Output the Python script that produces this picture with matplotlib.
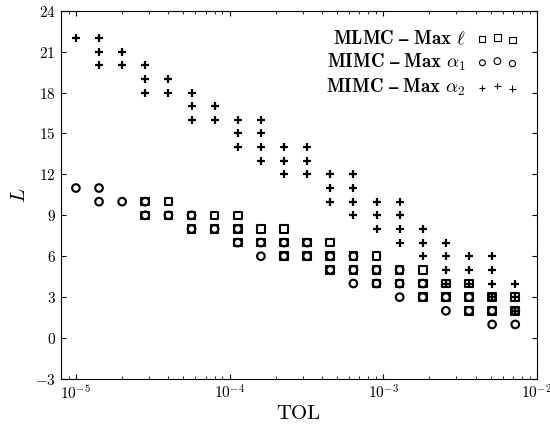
import numpy as np
import matplotlib
matplotlib.use("Agg")
import matplotlib.pyplot as plt

plt.rcParams['font.family'] = ['cmr10', 'DejaVu Serif']
plt.rcParams['mathtext.fontset'] = 'cm'
plt.rcParams['axes.formatter.use_mathtext'] = True
plt.rcParams['axes.unicode_minus'] = True

# TOL = 1e-5 * sqrt(2)^k, k = 0..19
tol = 1e-5 * np.sqrt(2.0) ** np.arange(20)

# valores de L observados para cada TOL
mlmc_max_l = [[], [], [], [10, 9], [10, 9], [9, 8], [9, 8], [9, 8, 7],
              [8, 7], [8, 7, 6], [7, 6], [7, 6, 5], [6, 5], [6, 5, 4],
              [5, 4], [5, 4, 3], [4, 3], [4, 3, 2], [3, 2], [3, 2]]
mimc_max_a1 = [[11], [11, 10], [10], [10, 9], [9], [9, 8], [8], [8, 7],
               [7, 6], [7, 6], [7, 6], [6, 5], [6, 5, 4], [5, 4],
               [5, 4, 3], [4, 3], [3, 2], [3, 2], [3, 2, 1], [2, 1]]
mimc_max_a2 = [[22], [22, 21, 20], [21, 20], [20, 19, 18], [19, 18],
               [18, 17, 16], [17, 16], [16, 15, 14], [16, 15, 14, 13],
               [14, 13, 12], [14, 13, 12], [12, 11, 10], [12, 11, 10, 9],
               [10, 9, 8], [10, 9, 8, 7], [8, 7, 6], [7, 6, 5, 4],
               [6, 5, 4], [6, 5, 4, 3], [4, 3, 2]]

etiquetas = [r'$\mathbf{MLMC}\ \mathbf{–}\ \mathbf{Max}\ \ell$',
             r'$\mathbf{MIMC}\ \mathbf{–}\ \mathbf{Max}\ \alpha_1$',
             r'$\mathbf{MIMC}\ \mathbf{–}\ \mathbf{Max}\ \alpha_2$']


def aplanar(valores):
    xs, ys = [], []
    for t, vs in zip(tol, valores):
        for v in vs:
            xs.append(t)
            ys.append(v)
    return xs, ys


fig = plt.figure(figsize=(5.5, 4.28), dpi=100)
ax = fig.add_axes([0.110, 0.1145, 0.866, 0.8605])

x, y = aplanar(mlmc_max_l)
ax.scatter(x, y, s=30, marker='s', facecolors='none', edgecolors='k',
           linewidths=1.5, label=etiquetas[0])
x, y = aplanar(mimc_max_a1)
ax.scatter(x, y, s=30, marker='o', facecolors='none', edgecolors='k',
           linewidths=1.5, label=etiquetas[1])
x, y = aplanar(mimc_max_a2)
ax.scatter(x, y, s=38, marker='+', c='k', linewidths=1.6,
           label=etiquetas[2])

ax.set_xscale('log')
ax.set_xlim(7.94e-6, 1.0e-2)
ax.set_ylim(-3, 24)
ax.set_yticks(np.arange(-3, 25, 3))
ax.tick_params(which='both', direction='in', top=True, right=True,
               labelsize=11)
ax.set_xlabel('TOL', fontsize=15, labelpad=2)
ax.set_ylabel('$L$', fontsize=15)

leg = ax.legend(loc='upper right', frameon=False, markerfirst=False,
                fontsize=13.5, scatterpoints=3, handletextpad=0.6,
                borderaxespad=0.6, labelspacing=0.2, handlelength=2.2)
for h in leg.legend_handles:
    h.set_sizes([18, 24, 20])
    h.set_linewidth(0.8)

fig.savefig('out.png', dpi=100)
